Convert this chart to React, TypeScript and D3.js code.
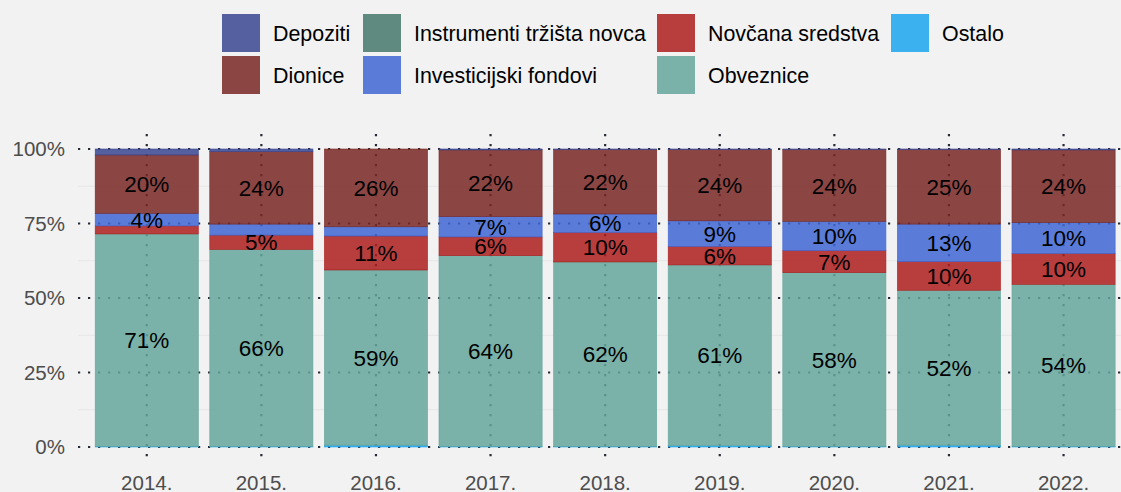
import React from "react";
import * as d3 from "d3";

// ---------- data ----------
const years = ["2014.", "2015.", "2016.", "2017.", "2018.", "2019.", "2020.", "2021.", "2022."];

// series, stacked from bottom to top (values in %)
const ostalo = [0.2, 0.2, 0.6, 0.2, 0.2, 0.4, 0.2, 0.6, 0.2];
const obveznice = [71.3, 66.1, 58.8, 64.0, 61.9, 60.7, 58.3, 52.0, 54.4];
const instrumenti = [0, 0, 0, 0, 0, 0, 0, 0, 0];
const novcana = [2.7, 4.8, 11.4, 6.3, 9.9, 6.2, 7.4, 9.6, 10.3];
const investicijski = [4.2, 3.7, 3.1, 6.8, 6.2, 8.6, 9.8, 12.6, 10.4];
const dionice = [19.6, 24.3, 26.1, 22.4, 21.6, 23.9, 24.1, 25.0, 24.4];
const depoziti = [2.0, 0.9, 0, 0.3, 0.2, 0.2, 0.2, 0.2, 0.3];

const yTicks = [0, 0.25, 0.5, 0.75, 1];
const yTickLabels = ["0%", "25%", "50%", "75%", "100%"];
const yMinor = [0.125, 0.375, 0.625, 0.875];

const seriesNames = [
  "Ostalo",
  "Obveznice",
  "Instrumenti tržišta novca",
  "Novčana sredstva",
  "Investicijski fondovi",
  "Dionice",
  "Depoziti",
];
const seriesValues = [ostalo, obveznice, instrumenti, novcana, investicijski, dionice, depoziti];

// legend order (row-major, 4 columns)
const legendOrder = [
  "Depoziti",
  "Instrumenti tržišta novca",
  "Novčana sredstva",
  "Ostalo",
  "Dionice",
  "Investicijski fondovi",
  "Obveznice",
];

// observed (blended) colours
const observedColors: Record<string, string> = {
  Depoziti: "#5561a0",
  Dionice: "#8b4645",
  "Instrumenti tržišta novca": "#5e8a7f",
  "Investicijski fondovi": "#5a7cd8",
  "Novčana sredstva": "#b83e3e",
  Obveznice: "#7ab1a8",
  Ostalo: "#3cb1ef",
};

const BG = "#f2f2f2";
const ALPHA = 0.85;
function baseColor(obs: string): string {
  const o = d3.rgb(obs);
  const b = d3.rgb(BG);
  const f = (ov: number, bv: number) => Math.max(0, Math.min(255, (ov - (1 - ALPHA) * bv) / ALPHA));
  return d3.rgb(f(o.r, b.r), f(o.g, b.g), f(o.b, b.b)).formatHex();
}

const W = 1121;
const H = 492;
const STEP = 114.6;
const PANEL_L = 78;
const PANEL_R = PANEL_L + 9.2 * STEP;
const Y0 = 447;
const Y100 = 149;
const PANEL_T = Y100 - 0.05 * (Y0 - Y100);
const PANEL_B = Y0 + 0.05 * (Y0 - Y100);

const FONT = "'Liberation Sans', Arial, Helvetica, sans-serif";
const GRID = "#262b36";

export default function App() {
  const x = d3.scaleBand<string>().domain(years).range([PANEL_L, PANEL_R]).paddingInner(0.1).paddingOuter(0.15);
  const y = d3.scaleLinear().domain([0, 1]).range([Y0, Y100]);

  const table = years.map((yr, i) => {
    const row: Record<string, number | string> = { year: yr };
    seriesNames.forEach((s, k) => (row[s] = seriesValues[k][i] / 100));
    return row;
  });
  const stacked = d3.stack<Record<string, number | string>>().keys(seriesNames)(table as any);

  const legendX = [222, 363, 657, 891];
  const legendY = [14, 56];
  const SQ = 38;

  return (
    <svg width={W} height={H} style={{ position: "absolute", left: 0, top: 0, background: BG }} fontFamily={FONT}>
      <rect x={0} y={0} width={W} height={H} fill={BG} />

      {/* minor grid */}
      {yMinor.map((t) => (
        <line key={"mn" + t} x1={PANEL_L} x2={PANEL_R} y1={y(t)} y2={y(t)} stroke="#e6e6e6" strokeWidth={1} />
      ))}
      {/* major grid */}
      {yTicks.map((t) => (
        <line
          key={"mj" + t}
          x1={PANEL_L}
          x2={PANEL_R}
          y1={y(t)}
          y2={y(t)}
          stroke={GRID}
          strokeWidth={2.2}
          strokeDasharray="2.2 7.8"
        />
      ))}
      {years.map((yr) => {
        const cx = (x(yr) as number) + x.bandwidth() / 2;
        return (
          <line
            key={"vg" + yr}
            x1={cx}
            x2={cx}
            y1={PANEL_T}
            y2={PANEL_B}
            stroke={GRID}
            strokeWidth={2.2}
            strokeDasharray="2.2 7.8"
          />
        );
      })}

      {/* bars */}
      {stacked.map((layer) => {
        const name = layer.key;
        const c = baseColor(observedColors[name]);
        return (
          <g key={name}>
            {layer.map((d, i) => {
              const v = d[1] - d[0];
              if (v <= 0) return null;
              const x0 = x(years[i]) as number;
              return (
                <rect
                  key={i}
                  x={x0}
                  width={x.bandwidth()}
                  y={y(d[1])}
                  height={y(d[0]) - y(d[1])}
                  fill={c}
                  fillOpacity={ALPHA}
                  stroke={c}
                  strokeWidth={0.6}
                />
              );
            })}
          </g>
        );
      })}

      {/* bar labels */}
      {stacked.map((layer) =>
        layer.map((d, i) => {
          const v = (d[1] - d[0]) * 100;
          if (v < 4) return null;
          const cx = (x(years[i]) as number) + x.bandwidth() / 2;
          const cy = (y(d[0]) + y(d[1])) / 2;
          return (
            <text key={layer.key + i} x={cx} y={cy + 8} textAnchor="middle" fontSize={22.5} fill="#000">
              {Math.round(v) + "%"}
            </text>
          );
        })
      )}

      {/* y axis labels */}
      {yTicks.map((t, k) => (
        <text key={"yl" + t} x={65} y={y(t) + 7.4} textAnchor="end" fontSize={20.5} fill="#4d4d4d">
          {yTickLabels[k]}
        </text>
      ))}

      {/* x axis labels */}
      {years.map((yr) => (
        <text
          key={"xl" + yr}
          x={(x(yr) as number) + x.bandwidth() / 2}
          y={490}
          textAnchor="middle"
          fontSize={20.5}
          fill="#4d4d4d"
        >
          {yr}
        </text>
      ))}

      {/* legend */}
      {legendOrder.map((name, k) => {
        const col = k % 4;
        const row = Math.floor(k / 4);
        const lx = legendX[col];
        const ly = legendY[row];
        return (
          <g key={"lg" + name}>
            <rect x={lx} y={ly} width={SQ} height={SQ} fill={baseColor(observedColors[name])} fillOpacity={ALPHA} />
            <text x={lx + SQ + 13} y={ly + SQ / 2 + 7.5} fontSize={21.4} fill="#000">
              {name}
            </text>
          </g>
        );
      })}
    </svg>
  );
}
